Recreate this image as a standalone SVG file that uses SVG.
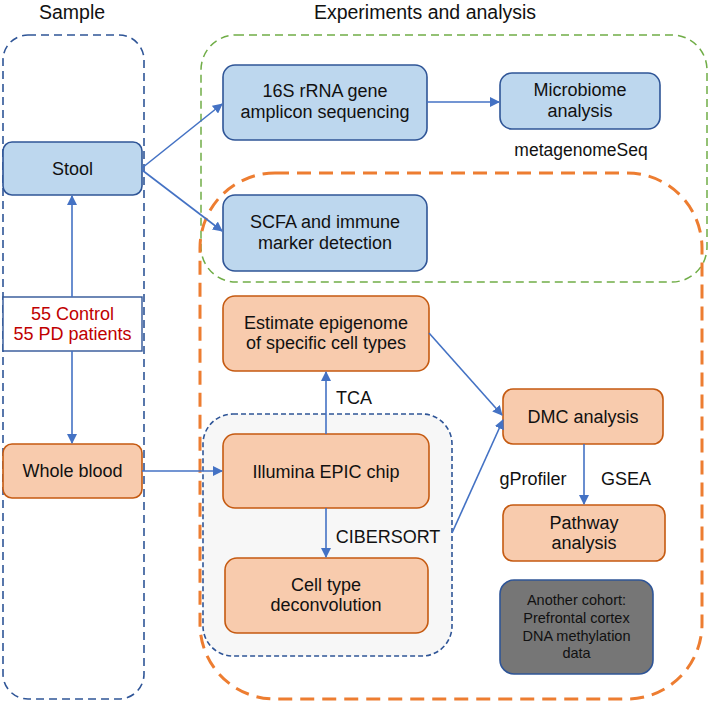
<svg xmlns="http://www.w3.org/2000/svg" width="709" height="703" viewBox="0 0 709 703">
<defs>
<marker id="ah" viewBox="0 0 10 10" refX="9" refY="5" markerWidth="10" markerHeight="10" markerUnits="userSpaceOnUse" orient="auto">
<path d="M0,0 L10,5 L0,10 z" fill="#4472c4"/>
</marker>
<style>
text{font-family:"Liberation Sans",Arial,sans-serif;fill:#111;text-anchor:middle}
.t{font-size:18px}
.h{font-size:19.5px}
.s{font-size:14.5px}
.red{fill:#c00000}
.blue{fill:#bdd7ee;stroke:#2f5597;stroke-width:1.6}
.or{fill:#f8cbad;stroke:#c55a11;stroke-width:1.6}
.ar{stroke:#4472c4;stroke-width:1.6;fill:none;marker-end:url(#ah)}
</style>
</defs>
<rect width="709" height="703" fill="#fff"/>
<text class="h" x="72" y="19">Sample</text>
<text class="h" x="425" y="19">Experiments and analysis</text>

<g id="containers">
<rect x="3" y="35" width="141" height="664" rx="25" fill="none" stroke="#2f5597" stroke-width="1.6" stroke-dasharray="8,5"/>
<rect x="201" y="35" width="506" height="247" rx="35" fill="none" stroke="#70ad47" stroke-width="1.5" stroke-dasharray="8,5"/>
<rect x="200" y="173" width="502" height="526" rx="75" fill="none" stroke="#ed7d31" stroke-width="3" stroke-dasharray="14,8"/>
<rect x="203" y="414" width="249" height="242" rx="30" fill="#f7f7f7" stroke="#2f5597" stroke-width="1.6" stroke-dasharray="5,3"/>
</g>

<g id="stool"><rect class="blue" x="3" y="142" width="139" height="53" rx="9"/><text class="t" x="72.5" y="175">Stool</text></g>
<g id="cohort"><rect x="3" y="297" width="139" height="54" fill="#fff" stroke="#2f5597" stroke-width="1.4"/><text class="t red" x="72.5" y="320">55 Control</text><text class="t red" x="72.5" y="340">55 PD patients</text></g>
<g id="blood"><rect class="or" x="3" y="444" width="139" height="54" rx="9"/><text class="t" x="72.5" y="477">Whole blood</text></g>

<g id="seq16s"><rect class="blue" x="223" y="65" width="204" height="75" rx="12"/><text class="t" x="325" y="97">16S rRNA gene</text><text class="t" x="325" y="118">amplicon sequencing</text></g>
<g id="microbiome"><rect class="blue" x="500" y="73" width="160" height="56" rx="12"/><text class="t" x="580" y="96">Microbiome</text><text class="t" x="580" y="117">analysis</text></g>
<text class="t" x="581" y="156" style="font-size:17.5px">metagenomeSeq</text>
<g id="scfa"><rect class="blue" x="223" y="195" width="204" height="76" rx="12"/><text class="t" x="325" y="228">SCFA and immune</text><text class="t" x="325" y="249">marker detection</text></g>

<g id="estimate"><rect class="or" x="223" y="296" width="206" height="75" rx="12"/><text class="t" x="326" y="329">Estimate epigenome</text><text class="t" x="326" y="349">of specific cell types</text></g>
<g id="epic"><rect class="or" x="223" y="434" width="206" height="74" rx="12"/><text class="t" x="326" y="478">Illumina EPIC chip</text></g>
<g id="decon"><rect class="or" x="225" y="558" width="203" height="75" rx="12"/><text class="t" x="326" y="591">Cell type</text><text class="t" x="326" y="611">deconvolution</text></g>
<g id="dmc"><rect class="or" x="503" y="389" width="160" height="55" rx="10"/><text class="t" x="583" y="423">DMC analysis</text></g>
<g id="pathway"><rect class="or" x="503" y="505" width="162" height="56" rx="10"/><text class="t" x="584" y="529">Pathway</text><text class="t" x="584" y="549">analysis</text></g>
<g id="another"><rect x="500" y="580" width="153" height="94" rx="14" fill="#767676" stroke="#2f5597" stroke-width="1.6"/><text class="s" x="576.5" y="605">Another cohort:</text><text class="s" x="576.5" y="623">Prefrontal cortex</text><text class="s" x="576.5" y="641">DNA methylation</text><text class="s" x="576.5" y="658">data</text></g>

<g id="connectors">
<line class="ar" x1="72" y1="297" x2="72" y2="196"/>
<line class="ar" x1="72" y1="351" x2="72" y2="443"/>
<line class="ar" x1="142" y1="168" x2="222" y2="104"/>
<line class="ar" x1="142" y1="170" x2="222" y2="231"/>
<line class="ar" x1="427" y1="102" x2="499" y2="102"/>
<line class="ar" x1="142" y1="471" x2="222" y2="471"/>
<line class="ar" x1="326" y1="434" x2="326" y2="372"/>
<line class="ar" x1="326" y1="508" x2="326" y2="557"/>
<line class="ar" x1="429" y1="333" x2="502" y2="415"/>
<line class="ar" x1="452" y1="533" x2="503" y2="420"/>
<line class="ar" x1="584" y1="444" x2="584" y2="504"/>
</g>
<text class="t" x="354" y="404">TCA</text>
<text class="t" x="388" y="543">CIBERSORT</text>
<text class="t" x="533" y="485">gProfiler</text>
<text class="t" x="626" y="485">GSEA</text>
</svg>
